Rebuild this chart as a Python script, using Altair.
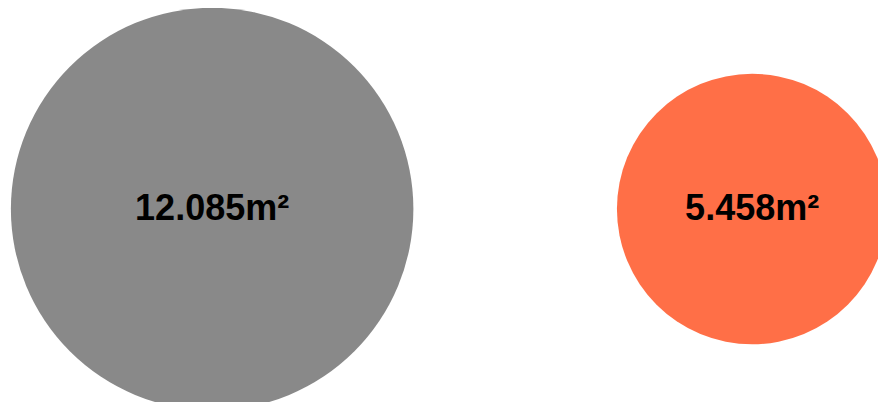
import altair as alt
import pandas as pd

labels = ["12.085m²", "5.458m²"]
areas = [12.085, 5.458]
colors = ["#898989", "#FF6F47"]
positions = [0, 1]
rows = [0, 0]

df = pd.DataFrame({"label": labels, "area": areas, "color": colors, "pos": positions, "row": rows})

x = alt.X("pos:Q", scale=alt.Scale(domain=[-0.378, 1.233], nice=False, zero=False), axis=None)
y = alt.Y("row:Q", scale=alt.Scale(domain=[-1, 1.0417], nice=False, zero=False), axis=None)

circles = alt.Chart(df).mark_circle(opacity=1).encode(
    x=x,
    y=y,
    size=alt.Size("area:Q", scale=alt.Scale(domain=[0, 12.085], range=[0, 162000], zero=True), legend=None),
    color=alt.Color("color:N", scale=None),
)

text = alt.Chart(df).mark_text(
    font="Liberation Sans", fontWeight="bold", fontSize=36, color="black",
    align="center", baseline="middle",
).encode(x=x, y=y, text="label:N")

chart = (circles + text).properties(
    width=870, height=394, padding=0,
    autosize=alt.AutoSizeParams(type="none"),
).configure_view(stroke=None)

chart.save("out.html", embed_options={"renderer": "svg", "actions": False})
